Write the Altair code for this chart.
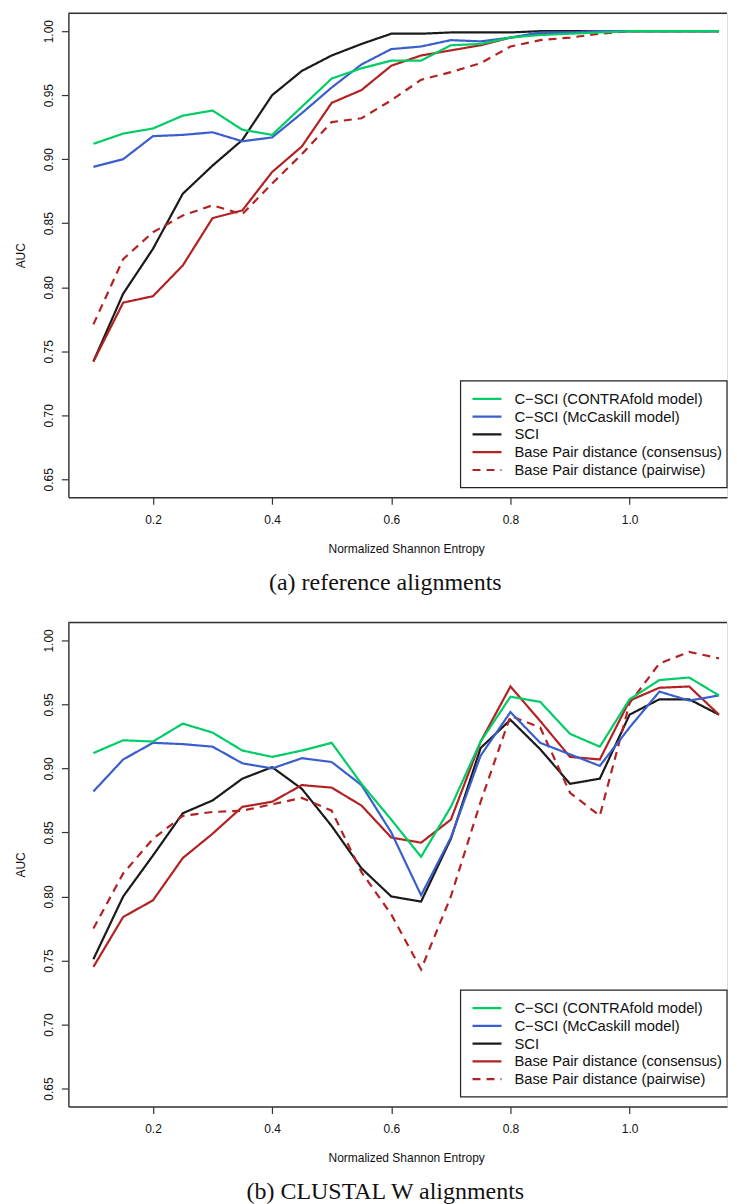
import altair as alt
import pandas as pd

# ---------------- data ----------------
entropy = [0.10, 0.15, 0.20, 0.25, 0.30, 0.35, 0.40, 0.45, 0.50, 0.55, 0.60,
           0.65, 0.70, 0.75, 0.80, 0.85, 0.90, 0.95, 1.00, 1.05, 1.10, 1.15]

series_names = ["C\u2212SCI (CONTRAfold model)", "C\u2212SCI (McCaskill model)", "SCI",
                "Base Pair distance (consensus)", "Base Pair distance (pairwise)"]

# (a) reference alignments
a_contrafold = [0.912, 0.920, 0.924, 0.934, 0.938, 0.923, 0.919, 0.941, 0.963, 0.971, 0.977,
                0.977, 0.989, 0.990, 0.995, 0.997, 0.998, 0.999, 1.000, 1.000, 1.000, 1.000]
a_mccaskill = [0.894, 0.900, 0.918, 0.919, 0.921, 0.914, 0.917, 0.936, 0.956, 0.974, 0.986,
               0.988, 0.993, 0.992, 0.995, 0.999, 0.999, 1.000, 1.000, 1.000, 1.000, 1.000]
a_sci = [0.742, 0.795, 0.830, 0.873, 0.895, 0.915, 0.950, 0.969, 0.981, 0.990, 0.998,
         0.998, 0.999, 0.999, 0.999, 1.000, 1.000, 1.000, 1.000, 1.000, 1.000, 1.000]
a_bp_cons = [0.742, 0.788, 0.793, 0.817, 0.854, 0.860, 0.890, 0.910, 0.944, 0.954, 0.973,
             0.981, 0.985, 0.989, 0.995, 0.998, 0.999, 1.000, 1.000, 1.000, 1.000, 1.000]
a_bp_pair = [0.771, 0.822, 0.843, 0.856, 0.864, 0.857, 0.881, 0.904, 0.929, 0.932, 0.946,
             0.962, 0.968, 0.975, 0.988, 0.993, 0.995, 0.998, 1.000, 1.000, 1.000, 1.000]

# (b) CLUSTAL W alignments
b_contrafold = [0.912, 0.922, 0.921, 0.935, 0.928, 0.914, 0.909, 0.914, 0.920, 0.888, 0.860,
                0.831, 0.870, 0.921, 0.956, 0.952, 0.927, 0.917, 0.954, 0.969, 0.971, 0.957]
b_mccaskill = [0.882, 0.907, 0.920, 0.919, 0.917, 0.904, 0.900, 0.908, 0.905, 0.887, 0.850,
               0.801, 0.846, 0.910, 0.944, 0.920, 0.911, 0.902, 0.932, 0.960, 0.953, 0.957]
b_sci = [0.751, 0.800, 0.832, 0.865, 0.875, 0.892, 0.901, 0.884, 0.855, 0.822, 0.800,
         0.796, 0.845, 0.916, 0.938, 0.915, 0.888, 0.892, 0.942, 0.954, 0.954, 0.942]
b_bp_cons = [0.745, 0.784, 0.797, 0.830, 0.849, 0.870, 0.874, 0.887, 0.885, 0.871, 0.846,
             0.842, 0.860, 0.921, 0.964, 0.937, 0.909, 0.907, 0.953, 0.963, 0.964, 0.942]
b_bp_pair = [0.775, 0.818, 0.845, 0.863, 0.866, 0.867, 0.872, 0.877, 0.867, 0.819, 0.786,
             0.743, 0.800, 0.874, 0.941, 0.932, 0.881, 0.863, 0.951, 0.982, 0.991, 0.986]

x_ticks = [0.2, 0.4, 0.6, 0.8, 1.0]
y_ticks = [0.65, 0.70, 0.75, 0.80, 0.85, 0.90, 0.95, 1.00]

# ---------------- styles ----------------
colors = ["#00CD66", "#3A5FCD", "#1A1A1A", "#B22222", "#B22222"]
dashes = [[1, 0], [1, 0], [1, 0], [1, 0], [8, 6]]
draw_order = [2, 3, 4, 1, 0]  # SCI, BP cons, BP pair, McCaskill, CONTRAfold (last on top)

W, H = 660, 485
XDOM = [0.058, 1.1635]
YDOM = [0.636, 1.014]
AXC = "#333333"
SANS = "Liberation Sans"


def panel(series_vals, caption):
    rows = []
    for k in draw_order:
        for xv, yv in zip(entropy, series_vals[k]):
            rows.append({"entropy": xv, "auc": yv, "series": series_names[k]})
    df = pd.DataFrame(rows)

    x_enc = alt.X("entropy:Q",
                  scale=alt.Scale(domain=XDOM, nice=False, zero=False),
                  axis=alt.Axis(values=x_ticks, format=".1f", grid=False,
                                title="Normalized Shannon Entropy",
                                titleFont=SANS, titleFontSize=12, titleFontWeight="normal",
                                titleColor="#111", titleX=338.5, titleY=55,
                                titleBaseline="alphabetic", titleAlign="center",
                                labelFont=SANS, labelFontSize=12, labelColor="#111",
                                labelBaseline="alphabetic", labelPadding=19, labelFlush=False,
                                tickSize=7, tickColor=AXC, tickWidth=1.2,
                                domainColor=AXC, domainWidth=1.4))
    y_enc = alt.Y("auc:Q",
                  scale=alt.Scale(domain=YDOM, nice=False, zero=False),
                  axis=alt.Axis(values=y_ticks, format=".2f", grid=False,
                                title="AUC",
                                titleFont=SANS, titleFontSize=12, titleFontWeight="normal",
                                titleColor="#111", titleX=-44, titleY=H / 2, titleAngle=270,
                                titleBaseline="alphabetic", titleAlign="center",
                                labelFont=SANS, labelFontSize=12, labelColor="#111",
                                labelAngle=270, labelAlign="center", labelBaseline="alphabetic",
                                labelPadding=8.5, labelOverlap=False, labelFlush=False,
                                tickSize=7, tickColor=AXC, tickWidth=1.2,
                                domainColor=AXC, domainWidth=1.4))

    lines = alt.Chart(df).mark_line(strokeWidth=2.2, clip=True).encode(
        x=x_enc, y=y_enc,
        color=alt.Color("series:N", scale=alt.Scale(domain=series_names, range=colors), legend=None),
        strokeDash=alt.StrokeDash("series:N", scale=alt.Scale(domain=series_names, range=dashes), legend=None),
    )

    dummy = pd.DataFrame({"d": [0]})
    top_rule = alt.Chart(dummy).mark_rule(color=AXC, strokeWidth=1.4).encode(
        x=alt.value(0), x2=alt.value(W), y=alt.value(0))

    # manual legend (R-style box)
    bx0, bx1, by0, by1 = 393, 660, 368.5, 475.3
    legend_box = alt.Chart(dummy).mark_rect(fill="white", stroke="#222", strokeWidth=1.2).encode(
        x=alt.value(bx0), x2=alt.value(bx1), y=alt.value(by0), y2=alt.value(by1))
    legend_layers = [legend_box]
    for i, name in enumerate(series_names):
        ly = 386.5 + i * 17.8
        legend_layers.append(
            alt.Chart(dummy).mark_rule(strokeWidth=2.2, color=colors[i], strokeDash=dashes[i]).encode(
                x=alt.value(405), x2=alt.value(434), y=alt.value(ly)))
        legend_layers.append(
            alt.Chart(dummy).mark_text(text=name, font=SANS, fontSize=14.8, color="#111",
                                       align="left", baseline="middle", dy=1).encode(
                x=alt.value(447), y=alt.value(ly)))

    return alt.layer(lines, top_rule, *legend_layers).properties(
        width=W, height=H,
        title=alt.TitleParams(text=caption, orient="bottom", anchor="middle", frame="group",
                              font="Liberation Serif", fontSize=24, fontWeight="normal",
                              color="#111", offset=17, dx=-12.4),
    )


pa = panel([a_contrafold, a_mccaskill, a_sci, a_bp_cons, a_bp_pair], "(a) reference alignments")
pb = panel([b_contrafold, b_mccaskill, b_sci, b_bp_cons, b_bp_pair], "(b) CLUSTAL W alignments")

chart = alt.vconcat(pa, pb, spacing=24.5).properties(
    padding={"left": 5.5, "top": 2, "right": 0, "bottom": 0}
).configure_view(stroke=None).configure(background="white")

chart.save("out.html", embed_options={"renderer": "svg", "actions": False})
